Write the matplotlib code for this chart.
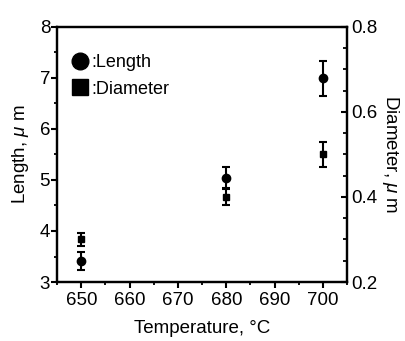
import matplotlib
matplotlib.use("Agg")
import matplotlib.pyplot as plt
from matplotlib.ticker import MultipleLocator
from matplotlib.lines import Line2D

plt.rcParams['font.family'] = ['Liberation Sans', 'DejaVu Sans']
plt.rcParams['mathtext.fontset'] = 'custom'
plt.rcParams['mathtext.it'] = 'Liberation Sans:italic'
plt.rcParams['mathtext.rm'] = 'Liberation Sans'

temperature = [650, 680, 700]
length = [3.41, 5.04, 6.99]
length_err = [0.17, 0.21, 0.34]
diameter = [0.30, 0.40, 0.50]
diameter_err = [0.015, 0.02, 0.03]

fig = plt.figure(figsize=(4.05, 3.41), dpi=100)
ax = fig.add_axes([0.141, 0.173, 0.716, 0.748])
ax2 = ax.twinx()

ax.errorbar(temperature, length, yerr=length_err, fmt='o', color='black',
            ms=6, elinewidth=1.5, capsize=3, capthick=1.5)
ax2.errorbar(temperature, diameter, yerr=diameter_err, fmt='s', color='black',
             ms=5, elinewidth=1.5, capsize=3, capthick=1.5)

ax.set_xlim(645, 705)
ax.set_ylim(3, 8)
ax2.set_ylim(0.2, 0.8)

ax.xaxis.set_major_locator(MultipleLocator(10))
ax.xaxis.set_minor_locator(MultipleLocator(5))
ax.yaxis.set_major_locator(MultipleLocator(1))
ax.yaxis.set_minor_locator(MultipleLocator(0.5))
ax2.yaxis.set_major_locator(MultipleLocator(0.2))
ax2.yaxis.set_minor_locator(MultipleLocator(0.05))

for a in (ax, ax2):
    for s in a.spines.values():
        s.set_linewidth(1.6)

ax.tick_params(axis='x', which='major', direction='out', length=4, width=1.5, labelsize=13.5, pad=3)
ax.tick_params(axis='x', which='minor', direction='out', length=2.5, width=1.3)
ax.tick_params(axis='y', which='major', direction='out', length=4, width=1.5, labelsize=13.5, pad=1)
ax.tick_params(axis='y', which='minor', direction='out', length=2.5, width=1.3)
ax2.tick_params(axis='y', which='major', direction='in', length=4, width=1.5, labelsize=13.5, pad=3)
ax2.tick_params(axis='y', which='minor', direction='in', length=3, width=1.3)

ax.set_xticks([650, 660, 670, 680, 690, 700])
ax.set_xticklabels(['650', '660', '670', '680', '690', '700'])
ax.set_yticks([3, 4, 5, 6, 7, 8])
ax.set_yticklabels(['3', '4', '5', '6', '7', '8'])
ax2.set_yticks([0.2, 0.4, 0.6, 0.8])
ax2.set_yticklabels(['0.2', '0.4', '0.6', '0.8'])

ax.set_xlabel('Temperature, °C', fontsize=13.5, labelpad=8)
ax.set_ylabel(r'Length, $\mathit{\mu}$ m', fontsize=13.5, labelpad=6)
ax2.set_ylabel(r'Diameter, $\mathit{\mu}$ m', fontsize=13.5, rotation=270, labelpad=17)

handles = [Line2D([], [], marker='o', color='black', ls='none', ms=12),
           Line2D([], [], marker='s', color='black', ls='none', ms=11)]
ax.legend(handles, [':Length', ':Diameter'], loc='upper left', frameon=False,
          fontsize=13, handletextpad=0.15, handlelength=1.0, labelspacing=0.52,
          borderaxespad=0, borderpad=0, bbox_to_anchor=(0.048, 0.893))

fig.savefig('out.png', dpi=100)
